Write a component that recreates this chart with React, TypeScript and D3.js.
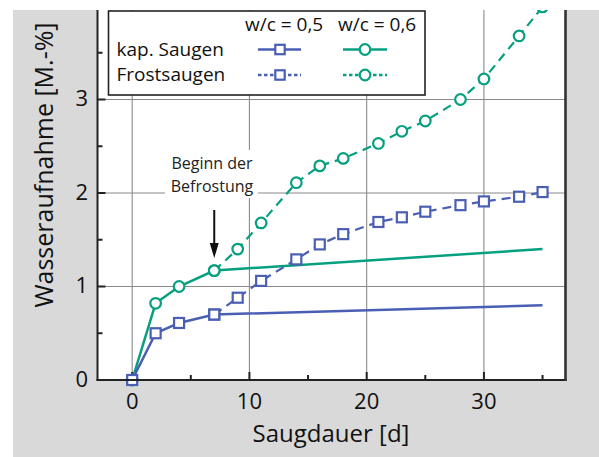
import React from 'react';
import * as d3 from 'd3';

// Wasseraufnahme über Saugdauer
const capDays = [0, 2, 4, 7, 35];
const cap05 = [0, 0.5, 0.61, 0.7, 0.8];
const cap06 = [0, 0.82, 1.0, 1.17, 1.4];
const capMarkerDays = [0, 2, 4, 7];

const frostDays = [7, 9, 11, 14, 16, 18, 21, 23, 25, 28, 30, 33, 35];
const frost05 = [0.7, 0.88, 1.06, 1.29, 1.45, 1.56, 1.69, 1.74, 1.8, 1.87, 1.91, 1.96, 2.01];
const frost06 = [1.17, 1.4, 1.68, 2.11, 2.29, 2.37, 2.53, 2.66, 2.77, 3.0, 3.22, 3.68, 3.99];

const xTicks = [0, 10, 20, 30];
const xMinor = [5, 15, 25, 35];
const yTicks = [0, 1, 2, 3];
const yMinor = [0.5, 1.5, 2.5, 3.5];
const gridX = [0, 10, 20, 30];
const gridY = [1, 2, 3];

const BLUE = '#4a5fb4';
const GREEN = '#06a080';
const FONT = "'Open Sans', sans-serif";

export default function App() {
  const W = 599;
  const H = 457;
  const left = 97.5;
  const right = 565.5;
  const top = 10;
  const bottom = 380;

  const x = d3.scaleLinear().domain([-3, 37]).range([97, 566]);
  const y = d3.scaleLinear().domain([0, 4]).range([380, 6]);

  const line = d3
    .line<[number, number]>()
    .x((d) => x(d[0]))
    .y((d) => y(d[1]));

  const zip = (a: number[], b: number[]) => a.map((d, i) => [d, b[i]] as [number, number]);
  const cap05pts = zip(capDays, cap05);
  const cap06pts = zip(capDays, cap06);
  const fr05pts = zip(frostDays, frost05);
  const fr06pts = zip(frostDays, frost06);

  const sq = 10;
  const cr = 5.3;

  const square = (p: [number, number], key: string) => (
    <rect
      key={key}
      x={x(p[0]) - sq / 2}
      y={y(p[1]) - sq / 2}
      width={sq}
      height={sq}
      fill="#fff"
      stroke={BLUE}
      strokeWidth={2.2}
    />
  );
  const circle = (p: [number, number], key: string) => (
    <circle key={key} cx={x(p[0])} cy={y(p[1])} r={cr} fill="#fff" stroke={GREEN} strokeWidth={2.2} />
  );

  return (
    <svg width={W} height={H} style={{ position: 'absolute', left: 0, top: 0 }} fontFamily={FONT}>
      <defs>
        <clipPath id="plot">
          <rect x={left} y={top} width={right - left} height={bottom - top + 8} />
        </clipPath>
      </defs>
      <rect x={0} y={0} width={W} height={H} fill="#fff" />
      <rect x={13} y={top} width={W - 13} height={H - top} fill="#d9d9d9" />
      <rect x={left} y={top} width={right - left} height={bottom - top} fill="#fff" />

      {/* grid */}
      {gridX.map((t) => (
        <line key={'gx' + t} x1={x(t)} x2={x(t)} y1={top} y2={bottom} stroke="#8a8a8a" strokeWidth={1.1} />
      ))}
      {gridY.map((t) => (
        <line key={'gy' + t} x1={left} x2={right} y1={y(t)} y2={y(t)} stroke="#8a8a8a" strokeWidth={1.1} />
      ))}

      {/* ticks */}
      {xTicks.map((t) => (
        <line key={'xt' + t} x1={x(t)} x2={x(t)} y1={bottom} y2={bottom - 8} stroke="#222" strokeWidth={2} />
      ))}
      {xMinor.map((t) => (
        <line key={'xm' + t} x1={x(t)} x2={x(t)} y1={bottom} y2={bottom - 5} stroke="#222" strokeWidth={2} />
      ))}
      {yTicks.map((t) => (
        <line key={'yt' + t} x1={left} x2={left + 8} y1={y(t)} y2={y(t)} stroke="#222" strokeWidth={2} />
      ))}
      {yMinor.map((t) => (
        <line key={'ym' + t} x1={left} x2={left + 5} y1={y(t)} y2={y(t)} stroke="#222" strokeWidth={2} />
      ))}

      {/* annotation */}
      <rect x={165} y={150} width={93} height={48} fill="#fff" />
      <text x={212} y={169} fontSize={16} textAnchor="middle" fill="#222">
        Beginn der
      </text>
      <text x={212} y={191.5} fontSize={16} textAnchor="middle" fill="#222">
        Befrostung
      </text>
      <line x1={x(7)} x2={x(7)} y1={210} y2={245} stroke="#111" strokeWidth={2} />
      <path d={`M${x(7) - 4.5},243 L${x(7) + 4.5},243 L${x(7)},258 Z`} fill="#111" />

      {/* series */}
      <g clipPath="url(#plot)">
        <path d={line(fr06pts) || ''} fill="none" stroke={GREEN} strokeWidth={2.2} strokeDasharray="9,6" />
        <path d={line(cap06pts) || ''} fill="none" stroke={GREEN} strokeWidth={2.5} />
        {fr06pts.map((p, i) => circle(p, 'f6' + i))}
        {cap06pts.filter((p) => capMarkerDays.includes(p[0])).map((p, i) => circle(p, 'c6' + i))}

        <path d={line(fr05pts) || ''} fill="none" stroke={BLUE} strokeWidth={2.2} strokeDasharray="9,6" />
        <path d={line(cap05pts) || ''} fill="none" stroke={BLUE} strokeWidth={2.5} />
        {fr05pts.map((p, i) => square(p, 'f5' + i))}
        {cap05pts.filter((p) => capMarkerDays.includes(p[0])).map((p, i) => square(p, 'c5' + i))}
      </g>

      {/* axes frame */}
      <line x1={left} x2={left} y1={top} y2={bottom + 1} stroke="#222" strokeWidth={2} />
      <line x1={left - 1} x2={right + 1} y1={bottom} y2={bottom} stroke="#222" strokeWidth={2} />
      <line x1={right} x2={right} y1={top} y2={bottom + 1} stroke="#333" strokeWidth={2.6} />

      {/* tick labels */}
      {xTicks.map((t) => (
        <text key={'xl' + t} x={x(t)} y={409} fontSize={22} textAnchor="middle" fill="#111">
          {t}
        </text>
      ))}
      {yTicks.map((t) => (
        <text key={'yl' + t} x={88} y={y(t) + 6.5} fontSize={22} textAnchor="end" fill="#111">
          {t}
        </text>
      ))}

      {/* white strip over the top */}
      <rect x={0} y={0} width={W} height={top} fill="#fff" />

      {/* axis titles */}
      <text x={331} y={442} fontSize={24} textAnchor="middle" fill="#111">
        Saugdauer [d]
      </text>
      <text
        transform="translate(53,165) rotate(-90)"
        fontSize={25}
        textAnchor="middle"
        fill="#111"
      >
        Wasseraufnahme [M.-%]
      </text>

      {/* legend */}
      <rect x={108.5} y={11} width={316.5} height={84} fill="#fff" stroke="#222" strokeWidth={1.6} />
      <text x={245} y={31} fontSize={19} fill="#111">
        w/c = 0,5
      </text>
      <text x={338} y={31} fontSize={19} fill="#111">
        w/c = 0,6
      </text>
      <text x={116.5} y={56} fontSize={19} fill="#111">
        kap. Saugen
      </text>
      <text x={116.5} y={81} fontSize={19} fill="#111">
        Frostsaugen
      </text>
      <line x1={258} x2={301} y1={49.5} y2={49.5} stroke={BLUE} strokeWidth={2.5} />
      <rect x={280 - 4.7} y={49.5 - 4.7} width={9.4} height={9.4} fill="#fff" stroke={BLUE} strokeWidth={2.2} />
      <line x1={258} x2={301} y1={75} y2={75} stroke={BLUE} strokeWidth={2.5} strokeDasharray="3.5,2.5" />
      <rect x={280 - 4.7} y={75 - 4.7} width={9.4} height={9.4} fill="#fff" stroke={BLUE} strokeWidth={2.2} />
      <line x1={343} x2={387} y1={49.5} y2={49.5} stroke={GREEN} strokeWidth={2.5} />
      <circle cx={365} cy={49.5} r={5.3} fill="#fff" stroke={GREEN} strokeWidth={2.2} />
      <line x1={343} x2={387} y1={75} y2={75} stroke={GREEN} strokeWidth={2.5} strokeDasharray="3.5,2.5" />
      <circle cx={365} cy={75} r={5.3} fill="#fff" stroke={GREEN} strokeWidth={2.2} />
    </svg>
  );
}
